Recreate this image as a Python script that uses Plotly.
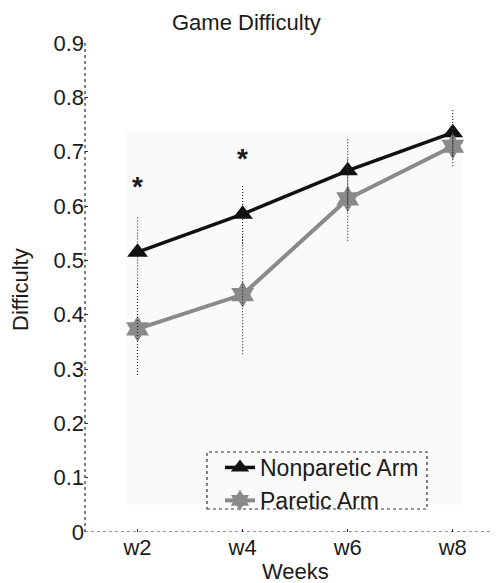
import plotly.graph_objects as go

weeks = ["w2", "w4", "w6", "w8"]
nonparetic = [0.515, 0.585, 0.665, 0.735]
nonparetic_err = [0.065, 0.055, 0.06, 0.043]
paretic = [0.374, 0.437, 0.613, 0.71]
paretic_err = [0.085, 0.11, 0.077, 0.037]
y_ticks = [0, 0.1, 0.2, 0.3, 0.4, 0.5, 0.6, 0.7, 0.8, 0.9]
y_tick_labels = ["0", "0.1", "0.2", "0.3", "0.4", "0.5", "0.6", "0.7", "0.8", "0.9"]
star_weeks = ["w2", "w4"]
star_y = [0.635, 0.687]

FONT = "Liberation Sans, Arial, sans-serif"
TXT = "#1a1a1a"
OFF = 8  # page body margin offset
W, H = 499 - OFF, 583 - OFF
L, R, T, B = 85 - OFF, 0, 43 - OFF, 51
PW, PH = W - L - R, H - T - B


def err_segments(xs, ys, es):
    ex, ey = [], []
    for x, y, e in zip(xs, ys, es):
        ex += [x, x, None]
        ey += [y - e, y + e, None]
    return ex, ey


def px_x(px):
    return (px - OFF - L) / PW


def px_y(py):
    return (H - B - (py - OFF)) / PH


fig = go.Figure()

fig.add_trace(go.Scatter(
    x=weeks, y=nonparetic, mode="lines+markers", name="Nonparetic Arm",
    line=dict(color="#111111", width=3.5),
    marker=dict(symbol="triangle-up", size=18, color="#111111"),
))
fig.add_trace(go.Scatter(
    x=weeks, y=paretic, mode="lines+markers", name="Paretic Arm",
    line=dict(color="#8a8a8a", width=4),
    marker=dict(symbol="hexagram", size=20, color="#8a8a8a"),
))

for vals, errs in [(nonparetic, nonparetic_err), (paretic, paretic_err)]:
    ex, ey = err_segments(weeks, vals, errs)
    fig.add_trace(go.Scatter(
        x=ex, y=ey, mode="lines", showlegend=False, hoverinfo="skip",
        line=dict(color="#222222", width=1.1, dash="1px,2px"),
    ))

for w, y in zip(star_weeks, star_y):
    fig.add_annotation(x=w, y=y, text="<b>*</b>", showarrow=False,
                       font=dict(family=FONT, size=28, color=TXT),
                       xanchor="center", yanchor="middle")

# faint scanned background patch
fig.add_shape(type="rect", xref="x", yref="y", x0=-0.11, x1=3.095, y0=0.05, y1=0.738,
              fillcolor="#fafafa", line=dict(width=0), layer="below")

# dotted axes lines
fig.add_shape(type="line", xref="paper", yref="y", x0=0, x1=0, y0=0, y1=0.9,
              line=dict(color="#333333", width=1.2, dash="dot"))
fig.add_shape(type="line", xref="paper", yref="y", x0=0, x1=1, y0=0, y1=0,
              line=dict(color="#333333", width=1.2, dash="dot"))

# dotted legend box
fig.add_shape(type="rect", xref="paper", yref="paper",
              x0=px_x(207), x1=px_x(427), y0=px_y(509), y1=px_y(452),
              line=dict(color="#333333", width=1.2, dash="dot"), fillcolor="rgba(0,0,0,0)")

# axis titles and chart title as positioned text
fig.add_annotation(xref="paper", yref="paper", x=px_x(295), y=px_y(571), text="Weeks",
                   showarrow=False, xanchor="center", yanchor="middle",
                   font=dict(family=FONT, size=22, color=TXT))
fig.add_annotation(xref="paper", yref="paper", x=px_x(20), y=px_y(290), text="Difficulty",
                   showarrow=False, xanchor="center", yanchor="middle", textangle=-90,
                   font=dict(family=FONT, size=22, color=TXT))
fig.add_annotation(xref="paper", yref="paper", x=px_x(246), y=px_y(22), text="Game Difficulty",
                   showarrow=False, xanchor="center", yanchor="middle",
                   font=dict(family=FONT, size=22, color=TXT))

fig.update_layout(
    width=W, height=H,
    margin=dict(l=L, r=R, t=T, b=B, autoexpand=False),
    paper_bgcolor="white", plot_bgcolor="white",
    font=dict(family=FONT, size=22, color=TXT),
    showlegend=True,
    legend=dict(x=px_x(220), y=px_y(446), xanchor="left", yanchor="top",
                bgcolor="rgba(0,0,0,0)", borderwidth=0,
                font=dict(family=FONT, size=23, color=TXT),
                tracegroupgap=0, itemwidth=30),
    xaxis=dict(
        type="category", categoryorder="array", categoryarray=weeks,
        range=[-0.5, 3.44], showgrid=False, zeroline=False, showline=False,
        ticks="inside", ticklen=3, tickcolor="#333333", automargin=False,
        tickfont=dict(family=FONT, size=22, color=TXT),
    ),
    yaxis=dict(
        range=[0, 0.9], tickvals=y_ticks, ticktext=y_tick_labels,
        showgrid=False, zeroline=False, showline=False, automargin=False,
        ticks="inside", ticklen=3, tickcolor="#333333",
        tickfont=dict(family=FONT, size=22, color=TXT),
    ),
)

fig.write_html("out.html")
